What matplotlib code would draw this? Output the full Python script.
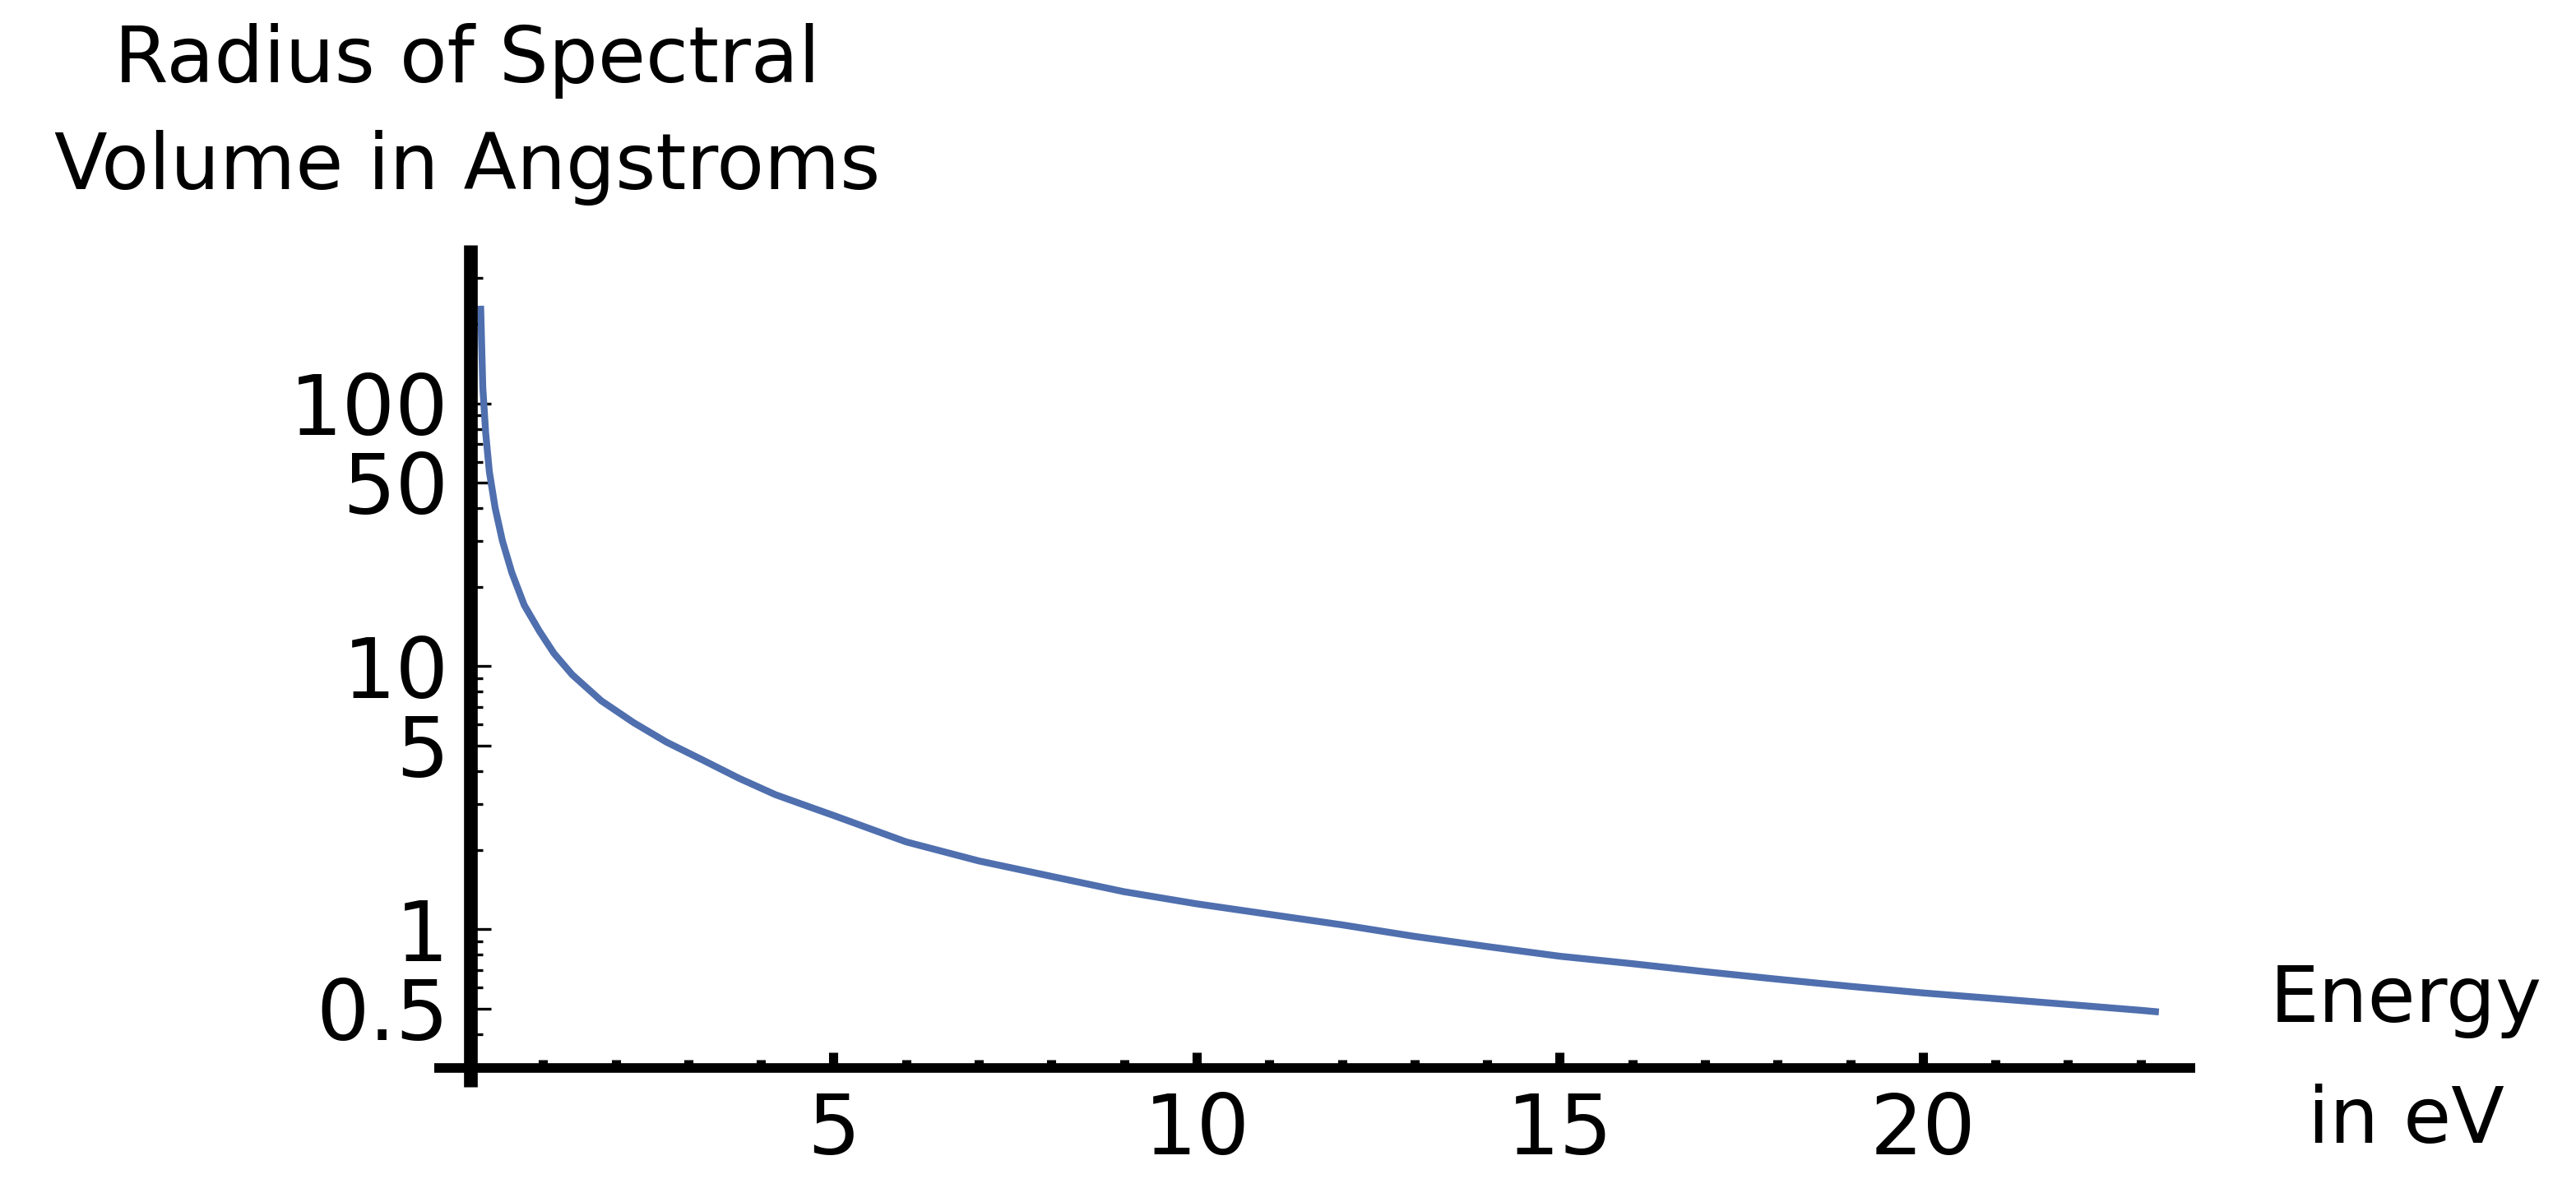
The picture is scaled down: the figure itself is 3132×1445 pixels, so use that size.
import matplotlib
matplotlib.use('Agg')
import matplotlib.pyplot as plt
from matplotlib.ticker import FixedLocator, FixedFormatter, NullFormatter

plt.rcParams['font.family'] = ['DejaVu Sans']

# ---- data (energy in eV, radius in Angstroms) ----
energy = [0.14, 0.17, 0.21, 0.26, 0.34, 0.44, 0.57, 0.74, 0.95, 1.15, 1.4,
          1.8, 2.25, 2.7, 3.2, 3.7, 4.2, 4.7, 5, 6, 7, 8, 9, 10, 11, 12,
          13, 14, 15, 16, 17, 18, 19, 20, 21, 22, 23, 23.25]
radius = [235, 115, 77, 55, 40, 30, 22.7, 17.1, 13.6, 11.2, 9.3,
          7.4, 6.1, 5.15, 4.4, 3.75, 3.25, 2.9, 2.71, 2.15, 1.82, 1.59, 1.39,
          1.25, 1.14, 1.04, 0.94, 0.86, 0.79, 0.74, 0.69, 0.646, 0.607,
          0.573, 0.545, 0.518, 0.492, 0.485]

y_major = [0.5, 1, 5, 10, 50, 100]
y_major_labels = ['0.5', '1', '5', '10', '50', '100']
y_minor = [0.4, 0.6, 0.7, 0.8, 0.9, 2, 3, 4, 6, 7, 8, 9,
           20, 30, 40, 60, 70, 80, 90, 200, 300]
x_major = [5, 10, 15, 20]
x_major_labels = ['5', '10', '15', '20']
x_minor = [1, 2, 3, 4, 6, 7, 8, 9, 11, 12, 13, 14, 16, 17, 18, 19, 21, 22, 23]

y_label_lines = ['Radius of Spectral', 'Volume in Angstroms']
x_label = 'Energy\nin eV'

LINE_COLOR = '#4f6fae'
W, H = 3132, 1445

# ─────────────────────────────────────────────
fig = plt.figure(figsize=(W / 100, H / 100), dpi=100)
ax = fig.add_axes([572 / W, 1 - 1299 / H, (2669 - 572) / W, (1299 - 298) / H])

ax.plot(energy, radius, color=LINE_COLOR, lw=6, solid_capstyle='butt')

ax.set_yscale('log')
ax.set_xlim(0, 23.75)
ax.set_ylim(0.297, 400)

# Mathematica-style crossing axes
for s in ('top', 'right'):
    ax.spines[s].set_visible(False)
ax.spines['left'].set_linewidth(12)
ax.spines['bottom'].set_linewidth(8.4)
ax.spines['left'].set_bounds(0.252, 400)
ax.spines['bottom'].set_bounds(-0.5, 23.75)
ax.spines['left'].set_capstyle('butt')
ax.spines['bottom'].set_capstyle('butt')

ax.yaxis.set_major_locator(FixedLocator(y_major))
ax.yaxis.set_major_formatter(FixedFormatter(y_major_labels))
ax.yaxis.set_minor_locator(FixedLocator(y_minor))
ax.yaxis.set_minor_formatter(NullFormatter())
ax.xaxis.set_major_locator(FixedLocator(x_major))
ax.xaxis.set_major_formatter(FixedFormatter(x_major_labels))
ax.xaxis.set_minor_locator(FixedLocator(x_minor))

ax.tick_params(axis='y', which='major', direction='in', length=18, width=2.4,
               labelsize=73, pad=19)
ax.tick_params(axis='y', which='minor', direction='in', length=11, width=2.4)
ax.tick_params(axis='x', which='major', direction='in', length=14, width=8,
               labelsize=73, pad=20)
ax.tick_params(axis='x', which='minor', direction='in', length=7, width=8)

# axis labels, placed like Mathematica's AxesLabel
fig.text(568 / W, 1 - 100 / H, y_label_lines[0], ha='center', va='baseline',
         fontsize=68)
fig.text(568 / W, 1 - 230 / H, y_label_lines[1], ha='center', va='baseline',
         fontsize=68)
# baseline given is that of the last line ("in eV")
fig.text(2925 / W, 1 - 1390 / H, x_label, ha='center', va='baseline',
         fontsize=68, linespacing=1.77)

fig.savefig('out.png', dpi=100)
